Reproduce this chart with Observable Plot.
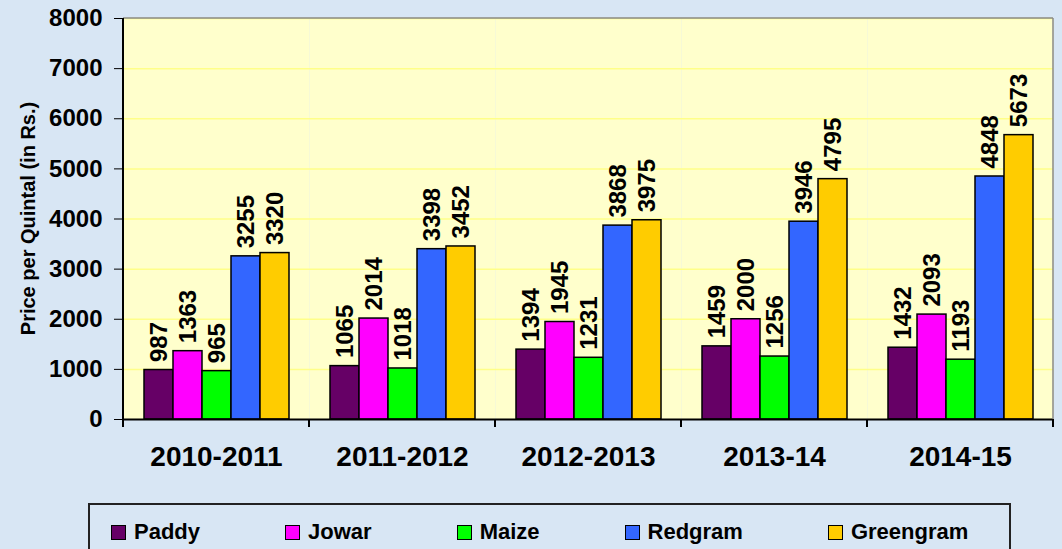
<!DOCTYPE html>
<html>
<head>
<meta charset="utf-8">
<script src="https://cdn.jsdelivr.net/npm/d3@7"></script>
<script src="https://cdn.jsdelivr.net/npm/@observablehq/plot@0.6"></script>
<style>
  html, body { margin: 0; padding: 0; }
  body { width: 1062px; height: 549px; overflow: hidden; background: #d8e6f4;
         font-family: "Liberation Sans", Arial, sans-serif; }
  #chart svg { display: block; background: transparent; }
  #legend { position: absolute; left: 88px; top: 503px; width: 923px; height: 60px;
            border: 2px solid #222; box-sizing: border-box; display: flex; align-items: flex-start;
            padding-left: 21px; padding-top: 14px; gap: 85px; }
  .item { display: flex; align-items: center; font-weight: bold; font-size: 22px; color: #000; }
  .sw { width: 13px; height: 13px; border: 1.5px solid #000; margin-right: 8px; }
</style>
</head>
<body>
<div id="chart"></div>
<div id="legend"></div>
<script>
const years = ["2010-2011", "2011-2012", "2012-2013", "2013-14", "2014-15"];
const crops = ["Paddy", "Jowar", "Maize", "Redgram", "Greengram"];
const colors = ["#660066", "#FF00FF", "#00FF00", "#3366FF", "#FFCC00"];
const paddy = [987, 1065, 1394, 1459, 1432];
const jowar = [1363, 2014, 1945, 2000, 2093];
const maize = [965, 1018, 1231, 1256, 1193];
const redgram = [3255, 3398, 3868, 3946, 4848];
const greengram = [3320, 3452, 3975, 4795, 5673];
const yTicks = [0, 1000, 2000, 3000, 4000, 5000, 6000, 7000, 8000];
const yTitle = "Price per Quintal (in Rs.)";

const series = [paddy, jowar, maize, redgram, greengram];
const data = [];
years.forEach((yr, i) => crops.forEach((c, j) => data.push({year: yr, crop: c, value: series[j][i]})));

const plot = Plot.plot({
  width: 1062,
  height: 504,
  marginTop: 18,
  marginBottom: 85,
  marginLeft: 122,
  marginRight: 8,
  style: {fontFamily: "'Liberation Sans', Arial, sans-serif", fontWeight: "bold", fontSize: "24px", color: "#000", background: "transparent"},
  fx: {domain: years, padding: 0, label: null},
  x: {domain: crops, paddingInner: 0, paddingOuter: 0.7, axis: null},
  y: {domain: [0, 8000], ticks: yTicks, tickFormat: d => String(d), tickSize: 9, tickPadding: 12, label: null},
  color: {domain: crops, range: colors, legend: false},
  marks: [
    Plot.frame({fill: "#FFFFCC", stroke: null}),
    Plot.gridY(yTicks.filter(d => d > 0), {stroke: "#FFFF88", strokeOpacity: 1, strokeWidth: 1.5}),
    Plot.barY(data, {fx: "year", x: "crop", y: "value", fill: "crop", stroke: "#000", strokeWidth: 1.5, inset: 0}),
    Plot.text(data, {fx: "year", x: "crop", y: "value", text: d => String(d.value), rotate: -90, textAnchor: "start", lineAnchor: "middle", dy: -8, fontSize: 24, fontWeight: "bold", fill: "#000"}),
    Plot.ruleY([0], {stroke: "#000", strokeWidth: 2}),
    Plot.axisFx({anchor: "bottom", tickSize: 0, tickPadding: 27, fontSize: 28, fontWeight: "bold", label: null})
  ]
});
document.getElementById("chart").appendChild(plot);

// plot-area borders, left axis line and category boundary ticks, from the plot's own scales
const svg = d3.select(plot);
const fx = plot.scale("fx"), y = plot.scale("y");
const x0 = fx.apply(years[0]);
const x1 = fx.apply(years[years.length - 1]) + fx.bandwidth;
const yTop = y.apply(8000), yBot = y.apply(0);
const g = svg.append("g");
g.append("line").attr("x1", x0).attr("x2", x1).attr("y1", yTop).attr("y2", yTop).attr("stroke", "#888").attr("stroke-width", 1.5);
g.append("line").attr("x1", x1).attr("x2", x1).attr("y1", yTop).attr("y2", yBot).attr("stroke", "#888").attr("stroke-width", 1.5);
g.append("line").attr("x1", x0).attr("x2", x0).attr("y1", yTop).attr("y2", yBot + 8).attr("stroke", "#000").attr("stroke-width", 2);
const bounds = years.map(yr => fx.apply(yr)).concat([x1]);
bounds.forEach(b => g.append("line").attr("x1", b).attr("x2", b).attr("y1", yBot).attr("y2", yBot + 8).attr("stroke", "#000").attr("stroke-width", 2));
g.append("text").text(yTitle)
  .attr("transform", `translate(35,${(yTop + yBot) / 2}) rotate(-90)`)
  .attr("text-anchor", "middle").attr("font-size", 20).attr("font-weight", "bold").attr("fill", "#000");

// legend
const legend = d3.select("#legend");
crops.forEach((c, i) => {
  const it = legend.append("div").attr("class", "item");
  it.append("div").attr("class", "sw").style("background", colors[i]);
  it.append("span").text(c);
});
</script>
</body>
</html>
